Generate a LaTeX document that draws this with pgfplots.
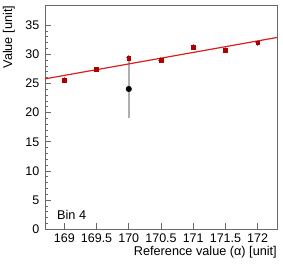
\documentclass[border=0pt]{standalone}
\usepackage{fontspec}
\setmainfont{Liberation Sans}
\usepackage{pgfplots}
\pgfplotsset{compat=1.18}
\definecolor{axgray}{RGB}{105,105,105}
\definecolor{ptred}{RGB}{175,0,0}
\definecolor{errred}{RGB}{215,90,90}
\definecolor{linered}{RGB}{220,30,30}
\definecolor{errgray}{RGB}{175,175,175}
\begin{document}
\begin{tikzpicture}
\path[use as bounding box] (-45bp,-44.7bp) rectangle (238bp,229.3bp);
\begin{axis}[
  at={(0,0)}, anchor=south west,
  scale only axis, width=232bp, height=223.6bp,
  xmin=168.7, xmax=172.3, ymin=0, ymax=38.35,
  xtick={169,169.5,170,170.5,171,171.5,172},
  xticklabels={169,169.5,170,170.5,171,171.5,172},
  ytick={0,5,10,15,20,25,30,35},
  minor y tick num=4,
  tick align=inside,
  xtick pos=bottom, ytick pos=left,
  major tick length=6bp, minor tick length=3bp,
  axis line style={axgray, line width=0.8bp},
  every tick/.style={axgray, line width=0.8bp},
  tick label style={font=\fontsize{12.5bp}{14bp}\selectfont, inner sep=0pt},
  /pgf/number format/assume math mode=true,
  scaled ticks=false,
  xticklabel style={anchor=north, yshift=-4.5bp},
  yticklabel style={anchor=east, xshift=-5.5bp},
  label style={font=\fontsize{12.7bp}{14bp}\selectfont, inner sep=0pt},
  xlabel={Reference value (α) [unit]},
  ylabel={Value [unit]},
  xlabel style={at={(axis description cs:1,-0.1165)}, anchor=base east},
  ylabel style={at={(axis description cs:-0.1422,1)}, anchor=base east},
]
% black point with error
\addplot[only marks, mark=*, mark size=2.8bp, black,
  error bars/.cd, y dir=both, y explicit,
  error bar style={errgray, line width=1.5bp}, error mark=none]
  coordinates {(170,24.07) +- (0,5.0)};
% fit line
\addplot[linered, line width=1.2bp, no marks] coordinates {(168.7,25.8) (172.3,32.9)};
% red points
\addplot[only marks, mark=square*, mark size=1.9bp, ptred,
  error bars/.cd, y dir=both, y explicit, x dir=both, x explicit,
  error bar style={errred, line width=1bp}, error mark=none]
  coordinates {
  (169,25.6) +- (0.04,0.5)
  (169.5,27.4) +- (0.04,0.5)
  (170,29.4) +- (0.04,0.5)
  (170.5,29.0) +- (0.04,0.5)
  (171,31.3) +- (0.04,0.5)
  (171.5,30.7) +- (0.04,0.5)
  (172,32.0) +- (0.04,0.5)
  };
\node[anchor=base west, font=\fontsize{12.7bp}{14bp}\selectfont, inner sep=0pt] at (axis description cs:0.0517,0.0447) {Bin 4};
\end{axis}
\end{tikzpicture}
\end{document}
